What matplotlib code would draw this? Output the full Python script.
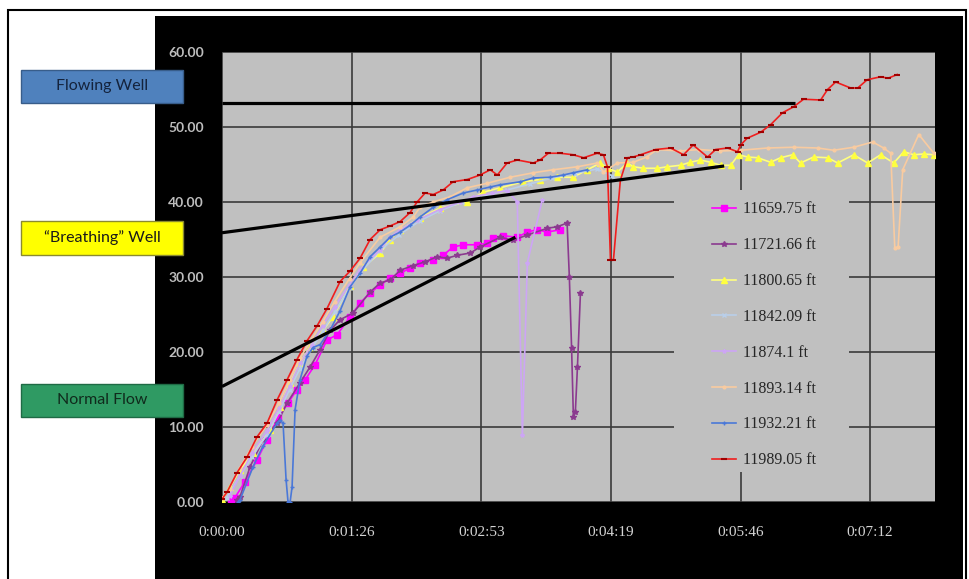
import matplotlib
matplotlib.use("Agg")
import matplotlib.pyplot as plt
from matplotlib.patches import Rectangle
from matplotlib.ticker import FixedLocator, FuncFormatter

# ===========================
# 数据 (时间单位: 秒)
# ===========================

X_TICKS = [0, 86.4, 172.8, 259.2, 345.6, 432]
X_LABELS = ["0:00:00", "0:01:26", "0:02:53", "0:04:19", "0:05:46", "0:07:12"]
Y_TICKS = [0, 10, 20, 30, 40, 50, 60]
X_MAX = 475.2

S_11659 = [(6, 0.3), (8.7, 0.6), (15.3, 2.7), (23.4, 5.6), (30, 8.3), (37.4, 11.3), (44, 13.2),
           (50, 15.0), (55.4, 16.3), (62, 18.3), (70, 21.6), (76.7, 22.3), (85.4, 24.7), (92, 26.5),
           (98.7, 27.9), (105.4, 28.9), (112, 29.9), (118.8, 30.5), (125.4, 31.2), (132, 31.9),
           (140.8, 32.3), (147.4, 32.9), (154, 34.0), (160.8, 34.3), (170, 34.3), (176.8, 34.5),
           (180.8, 35.2), (187.5, 35.5), (196.8, 35.3), (203.5, 36.0), (210, 36.3), (216.8, 36.0),
           (225.5, 36.3)]

S_11721 = [(10, 0.3), (12, 0.7), (18.7, 4.7), (27.4, 8.3), (36.7, 10.5), (43.4, 13.2), (52, 15.9),
           (58.7, 18.0), (65.4, 20.3), (72, 22.9), (78.7, 24.3), (87.4, 25.2), (98.7, 28.0),
           (105.4, 29.2), (112, 29.6), (118.8, 30.9), (127, 31.5), (135, 32.0), (143.4, 32.7),
           (150, 32.5), (156.8, 32.9), (165.5, 33.2), (172, 34.0), (185.5, 35.3), (194, 34.9),
           (203.5, 35.6), (216.8, 36.5), (223.5, 36.7), (230, 37.2), (231.5, 30.0), (233, 20.5),
           (234.2, 11.3), (235.5, 12.0), (236.9, 18.0), (238.9, 27.9)]

S_11800 = [(0, 0.3), (5.3, 2.0), (12, 4.3), (20.7, 6.5), (32, 9.6), (38.7, 12.7), (45.4, 15.9),
           (52, 18.5), (58.7, 20.7), (67.4, 22.9), (74, 24.7), (85.4, 28.8), (94, 31.3), (105.4, 33.2),
           (112, 35.0), (118.8, 36.3), (132, 37.9), (145.4, 39.2), (163.5, 40.0), (174, 41.3),
           (185.5, 41.9), (200.8, 42.7), (212, 43.0), (223.5, 43.3), (234, 43.3), (243.5, 44.3),
           (252.2, 45.2), (257, 44.5), (263.5, 44.0), (270.2, 45.2), (274.2, 44.7), (280.9, 44.5),
           (290.2, 44.5), (296.9, 44.7), (305.6, 44.9), (312.2, 45.3), (318.9, 45.6), (325.6, 45.3),
           (332.3, 44.9), (339, 44.9), (344.3, 46.3), (350.3, 46.0), (357, 45.9), (365.6, 45.3),
           (372.3, 45.9), (380.3, 46.3), (385.6, 45.2), (394.3, 46.0), (403.7, 45.9), (410.3, 45.2),
           (421, 46.3), (430.3, 45.2), (439, 46.3), (447.7, 45.2), (454.4, 46.7), (461, 46.3),
           (467.7, 46.4), (474.4, 46.3)]

S_11842 = [(3, 0.5), (12, 3.5), (20, 6.0), (30, 9.0), (38, 12.0), (45, 15.0), (52, 17.8), (60, 20.5),
           (67, 22.8), (75, 25.3), (85, 28.5), (92, 30.5), (105, 33.5), (118, 35.6), (132, 37.5),
           (145, 38.8), (160, 40.0), (175, 40.8), (190, 41.6), (205, 42.4), (220, 43.2), (235, 43.8),
           (250, 44.4), (260, 43.5)]

S_11874 = [(5, 0.8), (12, 3.5), (20, 6.5), (30, 9.5), (38, 12.5), (45, 15.5), (52, 18.5), (60, 21.0),
           (67, 23.5), (75, 26.0), (85, 29.0), (92, 31.0), (105, 33.6), (112, 35.3), (118.8, 36.3),
           (130, 37.6), (145, 39.0), (158.8, 40.0), (167.5, 40.7), (180, 41.2), (190, 41.5),
           (196.8, 40.0), (200.2, 8.9), (203.5, 31.9), (213.5, 40.3)]

S_11893 = [(0, 0.5), (5, 1.8), (12, 4.6), (20, 7.4), (30, 10.3), (38, 13.2), (45, 16.3), (52, 19.2),
           (60, 21.8), (67, 24.0), (75, 26.7), (85, 29.8), (92, 31.9), (105.4, 35.3), (118.8, 36.7),
           (127.4, 38.0), (132, 39.3), (140.8, 40.0), (152, 40.7), (163.5, 41.9), (176.8, 42.5),
           (192, 43.3), (207.5, 43.9), (220.8, 44.3), (236.9, 44.7), (250.2, 45.2), (254.2, 44.0),
           (263.5, 45.2), (274.2, 45.3), (283, 46.0), (290, 47.0), (305, 46.8), (318, 47.0),
           (332, 46.8), (345.6, 46.9), (363.6, 47.2), (381, 47.3), (397, 47.2), (407.7, 46.9),
           (421, 47.3), (433.7, 48.0), (441, 47.2), (445.7, 46.5), (448.4, 33.9), (450.6, 34.0),
           (453.7, 44.3), (464.4, 49.0), (474.4, 46.5)]

S_11932 = [(10.7, 0.0), (12, 0.3), (20.7, 4.7), (27.4, 7.5), (36.7, 10.5), (38.7, 10.9), (40.7, 10.5),
           (42.7, 3.0), (44, 0.0), (45.4, 0.0), (46.7, 2.0), (48.7, 12.3), (52, 16.3), (56.7, 19.5),
           (60.7, 20.6), (65.4, 21.0), (72, 22.9), (78.7, 25.5), (85.4, 28.7), (92, 30.5),
           (98.7, 32.7), (105.4, 34.0), (112, 35.3), (118.8, 36.0), (125.4, 36.9), (132, 38.0),
           (140.8, 39.3), (150, 40.3), (160.8, 41.2), (170, 41.6), (178.8, 42.0), (185.5, 42.3),
           (198.8, 42.7), (207.5, 43.2), (218.8, 43.3), (227.5, 43.6), (234.2, 43.9), (243.5, 44.3)]

S_11989 = [(0, 0.4), (3.3, 1.3), (10, 3.9), (16.7, 6.0), (23.4, 8.7), (30, 10.5), (36.7, 13.6),
           (43.4, 16.3), (50, 19.0), (56.7, 21.5), (63.4, 23.5), (70, 25.8), (78.7, 29.4), (85.4, 30.8),
           (92, 32.5), (98.7, 35.0), (105.4, 36.3), (112, 36.8), (118.8, 37.4), (125.4, 38.6),
           (130, 40.0), (135.4, 41.2), (140.8, 41.0), (147.4, 41.6), (154, 42.7), (163.5, 43.0),
           (172, 43.6), (178.8, 44.3), (183.5, 43.6), (190, 45.2), (196.8, 45.6), (207.5, 45.2),
           (212, 45.6), (217.5, 46.5), (225.5, 46.5), (234, 46.3), (241, 45.9), (250, 46.5),
           (254.2, 46.3), (256.9, 44.7), (258.9, 32.3), (260.9, 32.3), (265.5, 42.9), (270.2, 45.9),
           (274, 46.0), (279, 46.3), (289, 47.0), (299, 47.2), (307.6, 46.3), (314, 47.6),
           (323.6, 46.0), (329, 47.0), (337, 47.2), (343.6, 46.7), (345.6, 47.6), (350, 48.5),
           (359, 49.3), (365.6, 50.3), (373.6, 51.9), (381, 52.7), (387.6, 53.7), (399, 53.6),
           (403.6, 55.0), (409, 56.0), (419, 55.2), (423.7, 55.2), (430, 56.3), (439, 56.7),
           (444, 56.5), (450, 57.0)]

# 手绘趋势线
TREND_FLOWING = [(0, 53.2), (382, 53.2)]
TREND_BREATHING = [(0, 35.9), (334.7, 44.8)]
TREND_NORMAL = [(0, 15.4), (195.5, 35.3)]

BOX_LABELS = ["Flowing Well", "\u201cBreathing\u201d Well", "Normal Flow"]

# ===========================
# 样式
# ===========================

SERIES = [
    ("11659.75 ft", S_11659, dict(color="#FF00FF", marker="s", ms=4.5)),
    ("11721.66 ft", S_11721, dict(color="#8B3A8F", marker="*", ms=4)),
    ("11800.65 ft", S_11800, dict(color="#FFFF80", marker="^", ms=4.5, mfc="#FFFF40", mec="#FFFF40")),
    ("11842.09 ft", S_11842, dict(color="#B9CFEA", marker="x", ms=2.5)),
    ("11874.1 ft", S_11874, dict(color="#CDA5F5", marker="*", ms=3)),
    ("11893.14 ft", S_11893, dict(color="#F9CBA0", marker="o", ms=2)),
    ("11932.21 ft", S_11932, dict(color="#4A78D8", marker="+", ms=3)),
    ("11989.05 ft", S_11989, dict(color="#F01E1E", marker="_", ms=4, mec="#A00000", mew=1.5)),
]

W, H = 969, 579


def fx(px):
    return px / W


def fy(py):
    return 1 - py / H


fig = plt.figure(figsize=(W / 100, H / 100), dpi=100)
fig.patch.set_facecolor("white")

# 外框和黑色底
fig.add_artist(Rectangle((fx(8), fy(590)), fx(966) - fx(8), fy(10) - fy(590),
                         transform=fig.transFigure, fill=False, ec="black", lw=1.5, zorder=-2))
fig.add_artist(Rectangle((fx(155), fy(585)), fx(963) - fx(155), fy(16) - fy(585),
                         transform=fig.transFigure, fc="black", ec="none", zorder=-1))

ax = fig.add_axes([fx(222), fy(502), fx(935) - fx(222), fy(52) - fy(502)])
ax.set_facecolor("#C0C0C0")
for sp in ax.spines.values():
    sp.set_visible(False)

ax.set_xlim(0, X_MAX)
ax.set_ylim(0, 60)
ax.xaxis.set_major_locator(FixedLocator(X_TICKS))
ax.set_xticklabels(X_LABELS)
ax.yaxis.set_major_locator(FixedLocator(Y_TICKS))
ax.yaxis.set_major_formatter(FuncFormatter(lambda v, p: f"{v:.2f}"))
ax.tick_params(length=0)
ax.tick_params(axis="x", pad=17, labelsize=11, labelcolor="#D4D4D4")
ax.tick_params(axis="y", pad=13, labelsize=10, labelcolor="#BDBDBD")
for t in ax.get_xticklabels():
    t.set_fontfamily("Liberation Serif")
for t in ax.get_yticklabels():
    t.set_fontfamily("Lato")
    t.set_fontweight("bold")

ax.set_axisbelow(True)
ax.grid(True, color="#3A3A3A", lw=1.2)

# 图例底色（盖住网格）
ax.add_patch(Rectangle((0.634, 0.0667), 0.2454, 0.6267, transform=ax.transAxes,
                       fc="#C0C0C0", ec="none", zorder=1))

handles = []
for label, pts, st in SERIES:
    xs = [p[0] for p in pts]
    ys = [p[1] for p in pts]
    h, = ax.plot(xs, ys, lw=1.2, label=label, zorder=3, **st)
    handles.append(h)

for tr in [TREND_FLOWING, TREND_BREATHING, TREND_NORMAL]:
    ax.plot([p[0] for p in tr], [p[1] for p in tr], color="black", lw=2.3, zorder=5,
            solid_capstyle="butt")

leg = ax.legend(handles=handles, loc="upper left", bbox_to_anchor=(0.687, 0.6678),
                frameon=False, handlelength=1.5, handletextpad=0.45, labelspacing=1.24,
                borderaxespad=0, borderpad=0,
                prop={"family": "Liberation Serif", "size": 11.5})
for t in leg.get_texts():
    t.set_color("#262626")

# 左侧标签框
boxes = [
    (BOX_LABELS[0], 70, 103, "#4F81BD", "#385D8A", "#14233C"),
    (BOX_LABELS[1], 221, 255, "#FFFF00", "#8A8A30", "#1A1A1A"),
    (BOX_LABELS[2], 384, 417, "#2F9A63", "#1F6B45", "#102A1C"),
]
for text, y0, y1, fc, ec, tc in boxes:
    fig.add_artist(Rectangle((fx(21), fy(y1)), fx(183) - fx(21), fy(y0) - fy(y1),
                             transform=fig.transFigure, fc=fc, ec=ec, lw=1.0, zorder=10))
    fig.text(fx(102), fy((y0 + y1) / 2), text, ha="center", va="center",
             fontsize=11.5, family="Lato", color=tc, zorder=11)

fig.savefig("out.png", dpi=100)
